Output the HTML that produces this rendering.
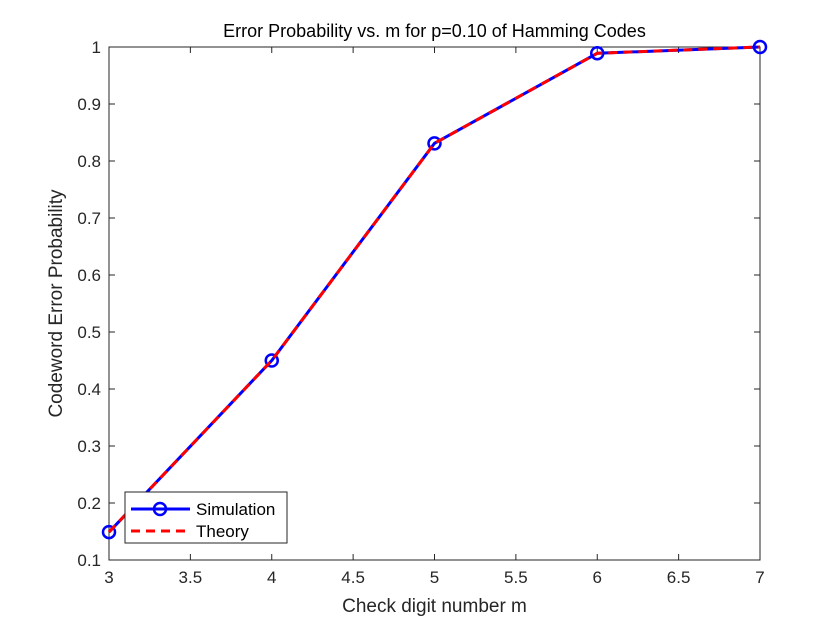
<!DOCTYPE html>
<html><head><meta charset="utf-8"><style>body{margin:0;background:#fff}svg{display:block;font-family:"Liberation Sans",Arial,sans-serif}</style></head>
<body>
<svg id="chart" width="840" height="630"></svg>
<script>
const xVals=[3,4,5,6,7];
const simVals=[0.149,0.450,0.831,0.989,1.000];
const theoryVals=[0.149,0.450,0.831,0.989,1.000];
const xTicks=[3,3.5,4,4.5,5,5.5,6,6.5,7];
const yTicks=[0.1,0.2,0.3,0.4,0.5,0.6,0.7,0.8,0.9,1];
const L=109,R=760,T=47,B=560;
const sx=v=>L+(v-3)/4*(R-L);
const sy=v=>B-(v-0.1)/0.9*(B-T);
const svg=document.getElementById('chart');
const NS='http://www.w3.org/2000/svg';
function mk(tag,attrs,parent){const e=document.createElementNS(NS,tag);for(const k in attrs)e.setAttribute(k,attrs[k]);(parent||svg).appendChild(e);return e;}
let e=mk('rect',{x:L,y:T,width:R-L,height:B-T,fill:'#fff',stroke:'#262626','stroke-width':1});


xTicks.forEach(t=>{const x=sx(t);
mk('line',{x1:x,x2:x,y1:B,y2:B-6,stroke:'#262626'});mk('line',{x1:x,x2:x,y1:T,y2:T+6,stroke:'#262626'});
const tx=mk('text',{x:x,y:B+23,'text-anchor':'middle','font-size':17,fill:'#262626'});tx.textContent=t;

});
yTicks.forEach(t=>{const y=sy(t);
mk('line',{x1:L,x2:L+6,y1:y,y2:y,stroke:'#262626'});mk('line',{x1:R,x2:R-6,y1:y,y2:y,stroke:'#262626'});
const tx=mk('text',{x:L-8,y:y+6,'text-anchor':'end','font-size':17,fill:'#262626'});tx.textContent=t;

});
let t=mk('text',{x:(L+R)/2,y:37,'text-anchor':'middle','font-size':18,fill:'#000'});t.textContent='Error Probability vs. m for p=0.10 of Hamming Codes';


t=mk('text',{x:(L+R)/2,y:612,'text-anchor':'middle','font-size':19,fill:'#262626'});t.textContent='Check digit number m';


t=mk('text',{x:0,y:0,'text-anchor':'middle','font-size':19,fill:'#262626',transform:`translate(62,${(T+B)/2}) rotate(-90)`});t.textContent='Codeword Error Probability';


const simPts=xVals.map((x,i)=>sx(x)+','+sy(simVals[i])).join(' ');
e=mk('polyline',{points:simPts,fill:'none',stroke:'#0000ff','stroke-width':3});


xVals.forEach((x,i)=>{const c=mk('circle',{cx:sx(x),cy:sy(simVals[i]),r:6,fill:'none',stroke:'#0000ff','stroke-width':2.5});

});
const thPts=xVals.map((x,i)=>sx(x)+','+sy(theoryVals[i])).join(' ');
e=mk('polyline',{points:thPts,fill:'none',stroke:'#ff0000','stroke-width':3,'stroke-dasharray':'9,6'});


const lg=mk('g',{});


mk('rect',{x:125,y:492,width:162,height:51,fill:'#fff',stroke:'#262626'},lg);
mk('line',{x1:131,x2:190,y1:509,y2:509,stroke:'#0000ff','stroke-width':3},lg);
mk('circle',{cx:160,cy:509,r:6,fill:'none',stroke:'#0000ff','stroke-width':2.5},lg);
t=mk('text',{x:196,y:515,'font-size':17,fill:'#000'},lg);t.textContent='Simulation';


mk('line',{x1:131,x2:190,y1:531,y2:531,stroke:'#ff0000','stroke-width':3,'stroke-dasharray':'9,6'},lg);
t=mk('text',{x:196,y:537,'font-size':17,fill:'#000'},lg);t.textContent='Theory';


</script>
</body></html>
